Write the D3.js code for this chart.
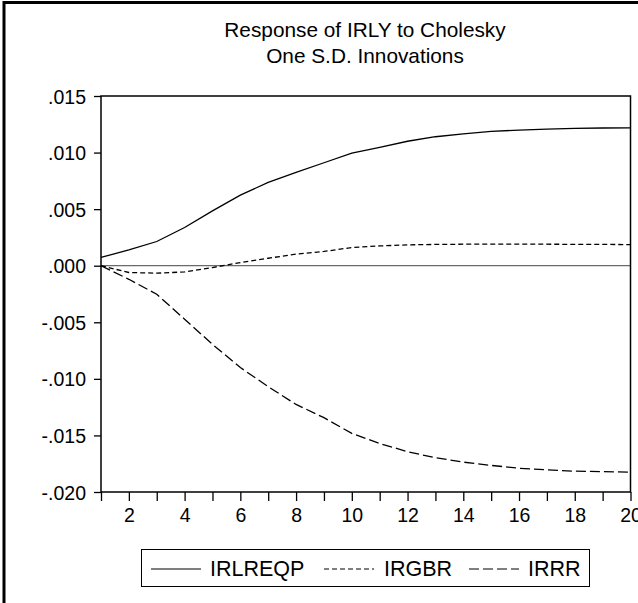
<!DOCTYPE html>
<html>
<head>
<meta charset="utf-8">
<script src="https://cdn.jsdelivr.net/npm/d3@7"></script>
<style>
  body { margin: 0; background: #fff; }
  svg { display: block; font-family: "Liberation Sans", Arial, sans-serif; }
</style>
</head>
<body>
<svg id="canvas" width="638" height="603"></svg>
<script>
// periods 1..20
const periods = d3.range(1, 21);

// responses
const irlreqp = [0.00073, 0.0014, 0.00214, 0.00338, 0.00485, 0.00624, 0.00736, 0.00825, 0.0091, 0.00996,
                 0.01046, 0.0110, 0.0114, 0.01166, 0.01187, 0.01199, 0.01208, 0.01214, 0.01217, 0.01219];
const irgbr = [0, -0.0006, -0.00066, -0.00055, -0.00016, 0.00028, 0.00066, 0.00102, 0.00126, 0.00161,
               0.00175, 0.00184, 0.00188, 0.0019, 0.00191, 0.00191, 0.0019, 0.00189, 0.00188, 0.00187];
const irrr = [0, -0.0012, -0.00252, -0.00473, -0.00695, -0.0090, -0.01069, -0.01226, -0.01343, -0.01482,
              -0.01571, -0.01644, -0.01697, -0.01736, -0.01765, -0.0179, -0.01804, -0.01816, -0.0182, -0.01825];

const seriesNames = ['IRLREQP', 'IRGBR', 'IRRR'];
const yTicks = [0.015, 0.010, 0.005, 0, -0.005, -0.010, -0.015, -0.020];
const xLabelTicks = [2, 4, 6, 8, 10, 12, 14, 16, 18, 20];
const titleLines = ['Response of IRLY to Cholesky', 'One S.D. Innovations'];

const dashes = ['none', '5,3', '10,4'];

const svg = d3.select('#canvas');

// outer frame (only top and left show in the crop)
svg.append('line').attr('x1', 4).attr('x2', 638).attr('y1', 2.5).attr('y2', 2.5)
    .attr('stroke', '#000').attr('stroke-width', 3);
svg.append('line').attr('x1', 4).attr('x2', 4).attr('y1', 1).attr('y2', 603)
    .attr('stroke', '#000').attr('stroke-width', 3);

const plotLeft = 101, plotRight = 630.5, plotTop = 96, plotBottom = 492;

const x = d3.scaleLinear().domain([1, 20]).range([plotLeft, plotRight]);
const y = d3.scaleLinear().domain([-0.020, 0.015]).range([plotBottom, plotTop]);

// title
svg.selectAll('text.title')
    .data(titleLines)
    .enter()
    .append('text')
    .attr('class', 'title')
    .attr('x', 365)
    .attr('y', (d, i) => 37 + i * 26)
    .attr('text-anchor', 'middle')
    .attr('font-size', '20.8px')
    .attr('fill', '#000')
    .text(d => d);

// zero line
svg.append('line')
    .attr('x1', plotLeft).attr('x2', plotRight)
    .attr('y1', y(0)).attr('y2', y(0))
    .attr('stroke', '#444').attr('stroke-width', 1);

// y axis, eviews style labels: ".010", "-.005"
const fmt = (v) => {
    if (v === 0) return '.000';
    let s = d3.format('.3f')(Math.abs(v)).replace('0.', '.');
    return (v < 0 ? '-' : '') + s;
};
const yAxis = d3.axisLeft(y).tickValues(yTicks).tickSize(7).tickPadding(8).tickFormat(fmt);
const gy = svg.append('g').attr('transform', 'translate(' + plotLeft + ',0)').call(yAxis);
gy.select('.domain').remove();
gy.selectAll('.tick line').attr('stroke', '#000').attr('stroke-width', 1.3);
gy.selectAll('.tick text').attr('font-size', '19.5px').attr('font-family', '"Liberation Sans", Arial, sans-serif')
    .attr('fill', '#000').attr('dy', '0.36em');

// x axis
const xAxis = d3.axisBottom(x).tickValues(periods).tickSize(9).tickPadding(7)
    .tickFormat(d => xLabelTicks.includes(d) ? d : '');
const gx = svg.append('g').attr('transform', 'translate(0,' + plotBottom + ')').call(xAxis);
gx.select('.domain').remove();
gx.selectAll('.tick line').attr('stroke', '#000').attr('stroke-width', 1.3);
gx.selectAll('.tick text').attr('font-size', '19.5px').attr('font-family', '"Liberation Sans", Arial, sans-serif')
    .attr('fill', '#000');

// plot frame
svg.append('rect')
    .attr('x', plotLeft).attr('y', plotTop)
    .attr('width', plotRight - plotLeft).attr('height', plotBottom - plotTop)
    .attr('fill', 'none').attr('stroke', '#000').attr('stroke-width', 1.5);

// lines
const lineGen = d3.line()
    .x((d, i) => x(periods[i]))
    .y(d => y(d));

const allSeries = [irlreqp, irgbr, irrr];
svg.selectAll('path.series')
    .data(allSeries)
    .enter()
    .append('path')
    .attr('class', 'series')
    .attr('d', d => lineGen(d))
    .attr('fill', 'none')
    .attr('stroke', '#000')
    .attr('stroke-width', 1.3)
    .attr('stroke-dasharray', (d, i) => dashes[i]);

// legend
const legend = svg.append('g');
legend.append('rect')
    .attr('x', 141.5).attr('y', 549.5)
    .attr('width', 448).attr('height', 37)
    .attr('fill', '#fff').attr('stroke', '#000').attr('stroke-width', 1);

const legendSwatch = [151, 324, 469];
const legendText = [210, 384, 528];

legend.selectAll('line.key')
    .data(seriesNames)
    .enter()
    .append('line')
    .attr('class', 'key')
    .attr('x1', (d, i) => legendSwatch[i])
    .attr('x2', (d, i) => legendSwatch[i] + 50)
    .attr('y1', 569).attr('y2', 569)
    .attr('stroke', '#000').attr('stroke-width', 1.2)
    .attr('stroke-dasharray', (d, i) => dashes[i]);

legend.selectAll('text.key')
    .data(seriesNames)
    .enter()
    .append('text')
    .attr('class', 'key')
    .attr('x', (d, i) => legendText[i])
    .attr('y', 576)
    .attr('font-size', '21.5px')
    .attr('fill', '#000')
    .text(d => d);
</script>
</body>
</html>
